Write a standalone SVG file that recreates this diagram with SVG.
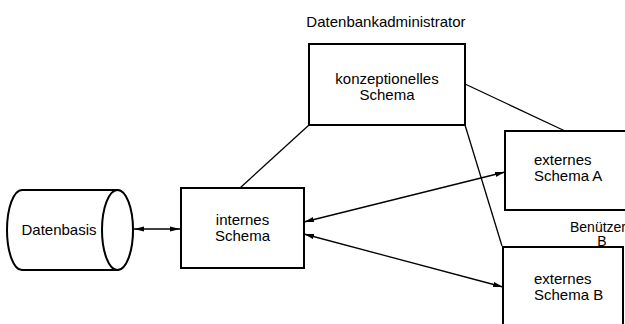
<svg xmlns="http://www.w3.org/2000/svg" width="625" height="324" viewBox="0 0 625 324">
<defs>
<style>
.box{fill:#fff;stroke:#000;stroke-width:2}
.ln{fill:none;stroke:#000;stroke-width:1.3}
.t{font-family:"Liberation Sans",Arial,sans-serif;font-size:15px;fill:#000}
.c{text-anchor:middle}
.s{font-size:14px}
</style>
<marker id="ah" viewBox="0 0 10 6" refX="10" refY="3" markerWidth="10" markerHeight="6" markerUnits="userSpaceOnUse" orient="auto-start-reverse">
<path d="M0,0.4 L10,3 L0,5.6 Z" fill="#000"/>
</marker>
</defs>
<rect width="625" height="324" fill="#fff"/>
<text class="t c" x="386" y="27">Datenbankadministrator</text>
<g id="connectors">
<line class="ln" x1="309" y1="125" x2="240" y2="188"/>
<line class="ln" x1="465" y1="84" x2="565" y2="131"/>
<line class="ln" x1="465" y1="125" x2="502" y2="246"/>
<line class="ln" x1="134" y1="229" x2="180" y2="229" marker-start="url(#ah)" marker-end="url(#ah)"/>
<line class="ln" x1="304" y1="222" x2="505" y2="172" marker-start="url(#ah)" marker-end="url(#ah)"/>
<line class="ln" x1="304" y1="234" x2="503" y2="287" marker-start="url(#ah)" marker-end="url(#ah)"/>
</g>
<g id="datenbasis">
<path class="box" d="M22,190 L117,190 A15.5,40 0 0 1 117,270 L22,270 A15,40 0 0 1 22,190 Z"/>
<ellipse class="box" cx="117.5" cy="230" rx="15.5" ry="40"/>
<text class="t c" x="59" y="235">Datenbasis</text>
</g>
<g id="internes">
<rect class="box" x="181" y="188" width="123" height="80"/>
<text class="t c" x="242.5" y="225">internes</text>
<text class="t c" x="242.5" y="241">Schema</text>
</g>
<g id="konzeptionelles">
<rect class="box" x="309" y="44" width="156" height="81"/>
<text class="t c" x="387" y="84">konzeptionelles</text>
<text class="t c" x="387" y="100">Schema</text>
</g>
<g id="externesA">
<rect class="box" x="505" y="131" width="140" height="79"/>
<text class="t" x="534" y="165">externes</text>
<text class="t" x="534" y="181">Schema A</text>
</g>
<g id="benutzer">
<text class="t s" x="570" y="232">Benützer</text>
<text class="t s c" x="602" y="246">B</text>
</g>
<g id="externesB">
<rect class="box" x="503" y="247" width="120" height="100"/>
<text class="t" x="534" y="284">externes</text>
<text class="t" x="534" y="300">Schema B</text>
</g>
</svg>
